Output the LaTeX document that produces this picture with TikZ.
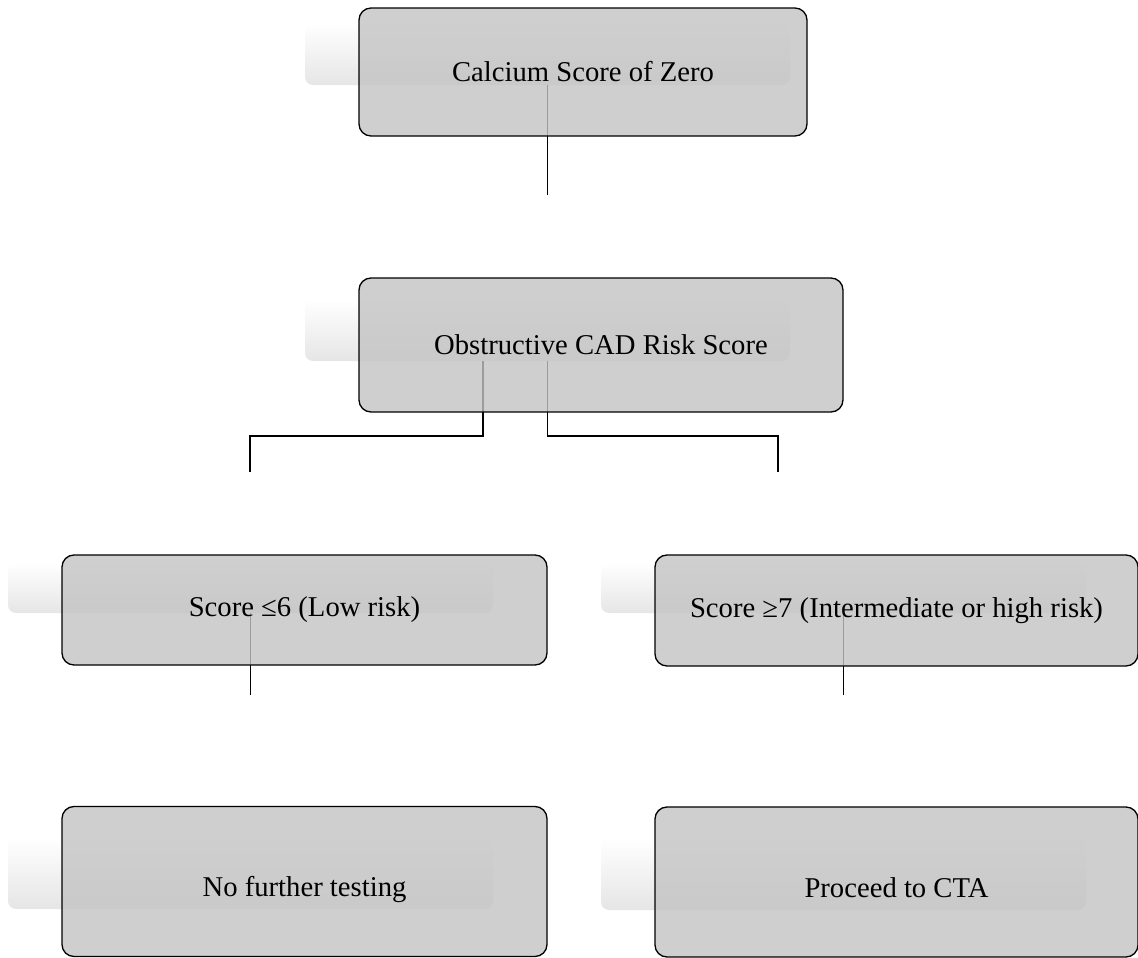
\documentclass[tikz,border=0pt]{standalone}
\usepackage{fontspec}
\setmainfont{Liberation Serif}
\usetikzlibrary{positioning}
\definecolor{boxfill}{RGB}{195,195,195}
\tikzset{
  flowbox/.style={draw=black, line width=1pt, rounded corners=9pt, fill=boxfill,
    fill opacity=0.8, text opacity=1, inner sep=0pt, outer sep=0pt,
    align=center, font=\fontsize{21.5}{25}\selectfont},
  lowtext/.style={text height=28pt, text depth=5pt},
  backpanel/.style={draw=none, rounded corners=6pt, top color=white, bottom color=gray!20,
    inner sep=0pt, outer sep=0pt, minimum width=363.75pt},
  link/.style={draw=black, line width=0.8pt}
}
\begin{document}
\begin{tikzpicture}[x=0.75pt, y=-0.75pt]
\useasboundingbox (0,0) rectangle (1138,957);
% background panels
\node[backpanel, minimum height=46.5pt] (s1) at (547.5,54) {};
\node[backpanel, minimum height=46.5pt] (s2) at (547.5,330) {};
\node[backpanel, minimum height=38.25pt] (s3) at (250.5,587.5) {};
\node[backpanel, minimum height=38.25pt] (s4) at (843.5,587.5) {};
\node[backpanel, minimum height=54pt] (s5) at (250.5,873) {};
\node[backpanel, minimum height=54pt] (s6) at (843.5,874) {};
% connector ends
\coordinate (c1) at (547.5,195);
\coordinate (c2l) at (250,472);
\coordinate (c2r) at (778,472);
\coordinate (c3) at (250.5,695);
\coordinate (c4) at (843.5,695);
% connectors
\draw[link] (s1.south) -- (c1);
\draw[link] ([xshift=-48.4pt]s2.south) -- ++(0,75) -| (c2l);
\draw[link] (s2.south) -- ++(0,75) -| (c2r);
\draw[link] (s3.south) -- (c3);
\draw[link] (s4.south) -- (c4);
% boxes
\node[flowbox, minimum width=336pt, minimum height=96pt] (b1) at (583,72) {Calcium Score of Zero};
\node[flowbox, minimum width=363pt, minimum height=100.5pt] (b2) at (601,345) {Obstructive CAD Risk Score};
\node[flowbox, minimum width=363.75pt, minimum height=82.5pt] (b3) at (304.5,610) {Score ≤6 (Low risk)};
\node[flowbox, minimum width=362.25pt, minimum height=83.25pt] (b4) at (896.5,610.5) {Score ≥7 (Intermediate or high risk)};
\node[flowbox, lowtext, minimum width=363.75pt, minimum height=112.5pt] (b5) at (304.5,881.5) {No further testing};
\node[flowbox, lowtext, minimum width=362.25pt, minimum height=112.5pt] (b6) at (896.5,882) {Proceed to CTA};
\end{tikzpicture}
\end{document}
